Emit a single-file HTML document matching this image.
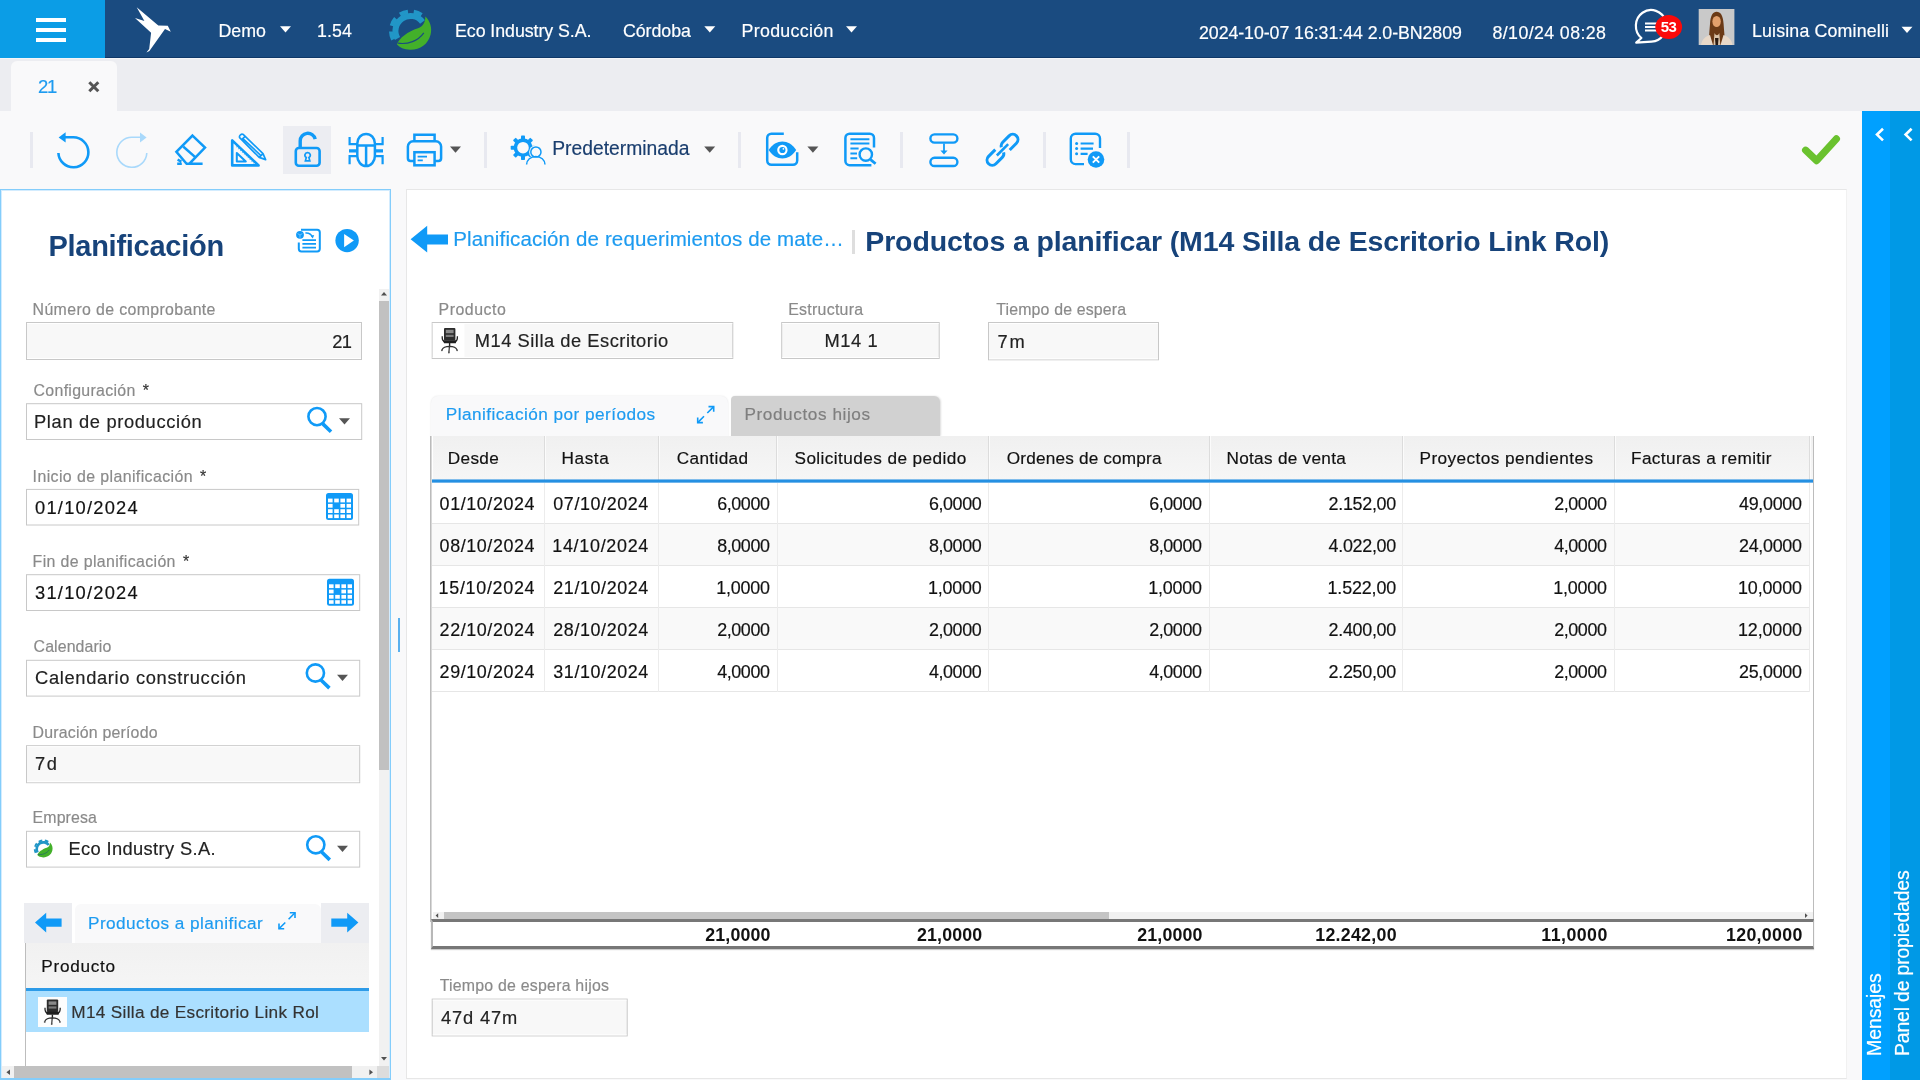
<!DOCTYPE html>
<html lang="es">
<head>
<meta charset="utf-8">
<title>Planificación</title>
<style>
*{box-sizing:border-box;margin:0;padding:0}
html,body{width:1920px;height:1080px;overflow:hidden;background:#f9f9fa;font-family:"Liberation Sans",sans-serif}
.a{position:absolute}
.t{position:absolute;white-space:nowrap;font-family:"Liberation Sans",sans-serif}
.s{-webkit-text-stroke:0.18px currentColor}
.inp{position:absolute;border:1px solid #c9c9c9;background:#fff;box-shadow:inset 0 0 0 1px #f3f3f3}
.ro{background:#f8f8f8}
svg{position:absolute;left:0;top:0;overflow:visible}
.sep{position:absolute;width:3px;top:132px;height:36px;background:#e8e9f0}
.gv{position:absolute;top:436px;height:44px;width:2px;background:linear-gradient(90deg,#dcdcdc 50%,#fbfbfb 50%)}
.cv{position:absolute;top:483px;height:209px;width:1px;background:#ececec}
</style>
</head>
<body>
<!-- top bar -->
<div class="a" style="left:0;top:0;width:1920px;height:58px;background:#1a4b80;border-bottom:1.5px solid #0f3868"></div>
<div class="a" style="left:0;top:0;width:105px;height:58px;background:#0b9de6"></div>
<div class="a" style="left:36px;top:18px;width:30px;height:4px;background:#fff;box-shadow:0 10px 0 #fff,0 20px 0 #fff"></div>
<!-- tab strip -->
<div class="a" style="left:0;top:58px;width:1920px;height:53px;background:#ecedf1;border-top:1px solid #f4f5f8"></div>
<div class="a" style="left:11px;top:61px;width:106px;height:50px;background:#f9f9fa;border-radius:6px 6px 0 0"></div>
<!-- toolbar -->
<div class="a" style="left:0;top:111px;width:1920px;height:78px;background:#f9f9fa"></div>
<div class="a" style="left:283px;top:126px;width:48px;height:48px;background:#ecedf2"></div>
<div class="sep" style="left:30px"></div><div class="sep" style="left:484px"></div><div class="sep" style="left:738px"></div>
<div class="sep" style="left:900px"></div><div class="sep" style="left:1043px"></div><div class="sep" style="left:1127px"></div>
<!-- right sidebar -->
<div class="a" style="left:1862px;top:111px;width:28px;height:969px;background:#00a0ff"></div>
<div class="a" style="left:1890px;top:111px;width:30px;height:969px;background:#0099e6"></div>

<!-- left panel -->
<div class="a" style="left:0;top:189px;width:391px;height:891px;background:#fff;border:1px solid #84cdfb;border-bottom-width:2px;box-shadow:inset 0 0 0 1px #d3ecfe"></div>
<!-- left scrollbars -->
<div class="a" style="left:379px;top:289px;width:10px;height:777px;background:#f1f1f1"></div>
<div class="a" style="left:379px;top:301px;width:10px;height:469px;background:#c1c1c1"></div>
<div class="a" style="left:2px;top:1066px;width:375px;height:12px;background:#f1f1f1"></div>
<div class="a" style="left:14px;top:1066px;width:338px;height:12px;background:#c1c1c1"></div>
<div class="a" style="left:377px;top:1066px;width:12px;height:12px;background:#dcdcdc"></div>
<!-- left inputs -->
<!-- left tab strip + grid -->
<div class="a" style="left:24px;top:902.5px;width:48px;height:40.5px;background:#ecedf1"></div>
<div class="a" style="left:321px;top:902.5px;width:48px;height:40.5px;background:#ecedf1"></div>
<div class="a" style="left:74.5px;top:904px;width:246.5px;height:39px;background:#f9f9fa;border-radius:6px 6px 0 0"></div>
<div class="a" style="left:24.5px;top:943px;width:344.5px;height:45.5px;background:linear-gradient(#f1f1f1,#f5f5f5)"></div>
<div class="a" style="left:24.5px;top:943px;width:1.5px;height:123px;background:#bdbdbd"></div>
<div class="a" style="left:26px;top:988.2px;width:343px;height:2.8px;background:#2d9be8"></div>
<div class="a" style="left:26px;top:991px;width:343px;height:40.5px;background:#abdfff"></div>
<div class="a" style="left:37.8px;top:997.2px;width:29.5px;height:29.5px;background:#fdfdfd"></div>

<!-- main panel -->
<div class="a" style="left:406px;top:189px;width:1441px;height:890px;background:#fff;border:1px solid #e7e7e7;border-right-color:#f1f1f1"></div>
<div class="a" style="left:398px;top:618px;width:1.5px;height:34px;background:#5ab0ee"></div>
<div class="a" style="left:852px;top:229.5px;width:2.5px;height:24px;background:#dedede"></div>
<!-- main inputs -->
<!-- tabs -->
<div class="a" style="left:430.5px;top:395.5px;width:297px;height:41px;background:#f9f9fa;border-radius:7px 7px 0 0;box-shadow:0 0 2px #e4e4e4"></div>
<div class="a" style="left:731px;top:396px;width:209px;height:40px;background:#d1d1d1;border-radius:4px 6px 0 0;box-shadow:1px 0 2px #ddd"></div>
<!-- grid -->
<div class="a" style="left:430.5px;top:435.5px;width:1383.5px;height:486px;background:#fff;border-right:1.5px solid #bcbcbc"></div>
<div class="a" style="left:430px;top:435.5px;width:1px;height:486px;background:#bbb"></div><div class="a" style="left:431px;top:435.5px;width:1px;height:486px;background:#d8d8d8"></div>
<div class="a" style="left:432.5px;top:435.5px;width:1380px;height:44.5px;background:linear-gradient(#f0f0f0,#f6f6f6)"></div>
<div class="gv" style="left:543.5px"></div><div class="gv" style="left:657.5px"></div><div class="gv" style="left:776.3px"></div>
<div class="gv" style="left:987.5px"></div><div class="gv" style="left:1208.5px"></div><div class="gv" style="left:1401.7px"></div>
<div class="gv" style="left:1613.5px"></div><div class="gv" style="left:1808.5px"></div>
<!-- rows -->
<div class="a" style="left:432px;top:483px;width:1377px;height:41px;background:#fff;border-bottom:1px solid #e6e6e6"></div>
<div class="a" style="left:432px;top:524px;width:1377px;height:42px;background:#f9f9f9;border-bottom:1px solid #e6e6e6"></div>
<div class="a" style="left:432px;top:566px;width:1377px;height:42px;background:#fff;border-bottom:1px solid #e6e6e6"></div>
<div class="a" style="left:432px;top:608px;width:1377px;height:42px;background:#f9f9f9;border-bottom:1px solid #e6e6e6"></div>
<div class="a" style="left:432px;top:650px;width:1377px;height:42px;background:#fff;border-bottom:1px solid #e6e6e6"></div>
<div class="cv" style="left:544px"></div><div class="cv" style="left:658px"></div><div class="cv" style="left:777px"></div>
<div class="cv" style="left:988px"></div><div class="cv" style="left:1209px"></div><div class="cv" style="left:1402px"></div>
<div class="cv" style="left:1614px"></div><div class="cv" style="left:1809px"></div>
<!-- grid h-scroll + footer -->
<div class="a" style="left:432.5px;top:911.5px;width:1380px;height:8px;background:#f1f1f1"></div>
<div class="a" style="left:444px;top:911.5px;width:665px;height:8px;background:#c4c4c4"></div>
<div class="a" style="left:430.5px;top:919px;width:1383.5px;height:30px;background:#fff;border-top:3px solid #777;border-bottom:3px solid #777;border-left:2px solid #b8b8b8;border-right:1.5px solid #b8b8b8;box-shadow:0 1px 1px #ccc"></div>

<svg width="1920" height="1080" viewBox="0 0 1920 1080">
<rect x="26.5" y="322.5" width="335" height="37" fill="#f8f8f8" stroke="#c8c8c8" stroke-width="1"/>
<path d="M27,323.5 H361 M27,358.5 H361" stroke="#fff" stroke-width="1" fill="none"/>
<rect x="26.5" y="403.7" width="335.2" height="35.8" fill="#fff" stroke="#c8c8c8" stroke-width="1"/>
<rect x="26.5" y="489.4" width="332.2" height="35.6" fill="#fff" stroke="#c8c8c8" stroke-width="1"/>
<rect x="26.5" y="574.7" width="333.2" height="35.8" fill="#fff" stroke="#c8c8c8" stroke-width="1"/>
<rect x="26.5" y="660.3" width="333.2" height="35.8" fill="#fff" stroke="#c8c8c8" stroke-width="1"/>
<rect x="26.5" y="745.7" width="333.2" height="37" fill="#f8f8f8" stroke="#c8c8c8" stroke-width="1"/>
<path d="M27,746.7 H359.2 M27,781.7 H359.2" stroke="#fff" stroke-width="1" fill="none"/>
<rect x="26.5" y="831.3" width="333.2" height="35.8" fill="#fff" stroke="#c8c8c8" stroke-width="1"/>
<rect x="432.2" y="322.5" width="300.6" height="36" fill="#f8f8f8" stroke="#c8c8c8" stroke-width="1"/>
<path d="M432.7,323.5 H732.3 M432.7,357.5 H732.3" stroke="#fff" stroke-width="1" fill="none"/>
<rect x="781.7" y="322.5" width="157.5" height="36" fill="#f8f8f8" stroke="#c8c8c8" stroke-width="1"/>
<path d="M782.2,323.5 H938.7 M782.2,357.5 H938.7" stroke="#fff" stroke-width="1" fill="none"/>
<rect x="988.5" y="322.5" width="170" height="37.3" fill="#f8f8f8" stroke="#c8c8c8" stroke-width="1"/>
<path d="M989,323.5 H1158 M989,358.8 H1158" stroke="#fff" stroke-width="1" fill="none"/>
<rect x="432.2" y="999.1" width="195" height="36.8" fill="#f8f8f8" stroke="#c8c8c8" stroke-width="1"/>
<path d="M432.7,1000.1 H626.7 M432.7,1034.9 H626.7" stroke="#fff" stroke-width="1" fill="none"/>
<defs>
<g id="eco">
 <path d="M397.5,38.5 A15,15 0 0 1 422.5,22.0" fill="none" stroke="#2196c7" stroke-width="6"/>
 <path d="M393.2,39.6 A19.3,19.3 0 0 1 391.2,31.5 M391.9,25.8 A19.3,19.3 0 0 1 395.8,18.5 M400.1,14.7 A19.3,19.3 0 0 1 408.0,11.9 M413.7,12.0 A19.3,19.3 0 0 1 421.4,15.1" fill="none" stroke="#2196c7" stroke-width="4.4"/>
 <path d="M397,44.6 C399,38 408,31.5 418,28.3 C423,26.3 425.6,22 425.3,16.5 C430.2,21 432.3,28 430.6,34.5 C428,44.5 420,50 410,49.8 C404,49.6 399.5,47.6 397,44.6 Z" fill="#43b02a"/>
 <path d="M398,43.2 C408,44.6 418,41 423.8,32.8" fill="none" stroke="#1a4b80" stroke-width="1.2"/>
</g>
<g id="chair">
 <rect x="444" y="328" width="11.4" height="12.4" rx="1" fill="#2b2b2b"/>
 <rect x="445.8" y="329.8" width="7.8" height="3.4" fill="#8a8a8a"/>
 <rect x="445.8" y="334.8" width="7.8" height="2.2" fill="#7a7a7a"/>
 <path d="M442.2,336.2 C442,340 443.5,341.5 445,342 M457.4,336.2 C457.6,340 456,341.5 454.6,342" fill="none" stroke="#222" stroke-width="1.3"/>
 <path d="M443,340.2 H456.6 L455.8,343.2 H444 Z" fill="#1e1e1e"/>
 <path d="M449.6,343 V347" stroke="#222" stroke-width="1.4"/>
 <path d="M441.9,350 C443,347.3 446,346.3 449.6,346.3 C453,346.3 456,347.3 457.1,350 M449.4,346.5 L448.9,352.4" fill="none" stroke="#333" stroke-width="1.2"/>
 <circle cx="441.9" cy="350.3" r="0.9" fill="#555"/><circle cx="457.1" cy="350.3" r="0.9" fill="#555"/><circle cx="448.9" cy="352.5" r="0.9" fill="#555"/>
</g>
<g id="mag">
 <circle cx="317" cy="416.6" r="8.6" fill="none" stroke="#109af7" stroke-width="2.6"/>
 <path d="M322.6,423.6 L331,431.7" stroke="#109af7" stroke-width="3.6"/>
</g>
<g id="cal">
 <rect x="326" y="493" width="27" height="27" rx="2.5" fill="#109af7"/>
 <g fill="#fff">
  <rect x="328" y="498.6" width="4.6" height="3.8"/><rect x="334.2" y="498.6" width="4.6" height="3.8"/><rect x="340.4" y="498.6" width="4.6" height="3.8"/><rect x="346.6" y="498.6" width="4.4" height="3.8"/>
  <rect x="328" y="503.9" width="4.6" height="3.8"/><rect x="340.4" y="503.9" width="4.6" height="3.8"/><rect x="346.6" y="503.9" width="4.4" height="3.8"/>
  <rect x="328" y="509.2" width="4.6" height="3.8"/><rect x="334.2" y="509.2" width="4.6" height="3.8"/><rect x="340.4" y="509.2" width="4.6" height="3.8"/><rect x="346.6" y="509.2" width="4.4" height="3.8"/>
  <rect x="328" y="514.5" width="4.6" height="3.6"/><rect x="334.2" y="514.5" width="4.6" height="3.6"/><rect x="340.4" y="514.5" width="4.6" height="3.6"/><rect x="346.6" y="514.5" width="4.4" height="3.6"/>
 </g>
</g>
<path id="car" d="M0,0 H11 L5.5,6.2 Z"/>
<g id="exp" fill="none" stroke="#109af7" stroke-width="1.6">
 <path d="M279,928.8 L285.3,922.5 M288.6,919.2 L295,912.8"/>
 <path d="M279,923.6 V928.8 H284.2 M289.8,912.8 H295 V918" stroke-linejoin="miter"/>
</g>
</defs>

<rect x="432" y="479.45" width="1381" height="3.2" fill="#2590e2"/>
<!-- bird -->
<path d="M136.7,7.2 L158.3,25.6 L167.8,25.8 L170.8,31.7 L165,28.9 L149.4,51.1 L146.4,52.5 L149.2,48.9 L151.1,32.8 L135,18 L144.4,21.1 Z" fill="#fff"/>
<use href="#eco"/>
<!-- top carets -->
<g fill="#fff">
<use href="#car" x="280" y="26.3"/><use href="#car" x="704.3" y="26.3"/><use href="#car" x="846" y="26.3"/><use href="#car" x="1901.5" y="26.7" />
</g>
<!-- chat bubble -->
<path d="M1641.4,38 A15.2,15.8 0 1 1 1651.5,41.6 L1636.2,42.6 Z" fill="none" stroke="#fff" stroke-width="2.2" stroke-linejoin="round"/>
<path d="M1645,23.4 H1660 M1645,27 H1660 M1645,30.6 H1660" stroke="#fff" stroke-width="2"/>
<ellipse cx="1668.7" cy="27" rx="13.4" ry="12" fill="#fb0a0a"/>
<!-- avatar -->
<rect x="1698.7" y="9" width="35.7" height="36" fill="#c9c9c9"/>
<path d="M1708.5,45 C1709,36 1709.5,30 1710,24 C1710.5,15 1713,11.8 1716.6,11.8 C1720.5,11.8 1723,15 1723.6,24 C1724,30 1724.6,36 1725.2,45 Z" fill="#6b3a16"/>
<ellipse cx="1716.6" cy="21.5" rx="4.2" ry="5.6" fill="#e2a06c"/>
<path d="M1701,45 C1702,39 1706,36 1710,35 L1713,45 Z M1732.5,45 C1731.5,39 1727.5,36 1723.5,35 L1720.5,45 Z" fill="#e8d8c8"/>
<path d="M1713.5,45 L1714.5,33 C1716,36 1718,36 1719.3,33 L1720.3,45 Z" fill="#d9c2a8"/>
<path d="M1715,38 L1718.5,38 L1718,45 L1715.5,45Z" fill="#2a1a10"/>
<!-- tab close x -->
<path d="M89.3,82.3 L98.3,91.3 M98.3,82.3 L89.3,91.3" stroke="#555" stroke-width="3"/>

<!-- ===== toolbar icons ===== -->
<g fill="none" stroke="#109af7" stroke-width="2.6">
 <!-- undo -->
 <path d="M58.4,153 A15,15 0 1 0 73.3,137.3 H65"/>
 <path d="M58.6,137.4 L65.6,132.2 V142.6 Z" fill="#109af7" stroke="none"/>
 <!-- eraser -->
 <path d="M192.5,135.6 L205,147.6 L189.4,163.7 H186.6 L176.4,151.8 Z M183.4,146.8 L195.8,157.6 M189,163.7 H202.6 M177.2,163.7 H181.8 M177.6,159.6 L181.4,161.6" stroke-width="2.5"/>
 <!-- triangle/pencil -->
 <path d="M232.2,140.4 V165.4 H258.6 Z" stroke-width="2.6" stroke-linejoin="round"/>
 <path d="M236.5,146.5 L254.5,163.5" stroke-width="1.2" stroke-dasharray="1 1.6" opacity=".7"/>
 <path d="M236.8,153 V161.4 H245.8 Z" stroke-width="2" stroke-linejoin="round"/>
 <path d="M239.6,137.6 A2.6,2.6 0 0 1 243.4,134.6 L263,153.6 L265.6,159.6 L259.2,157.4 Z M241.6,139.6 L245.2,136.4 M259.4,157.2 L262.8,153.8 M242.6,138.4 L261.2,155.8" stroke-width="1.7" stroke-linejoin="round"/>
 <!-- lock -->
 <rect x="295.8" y="148" width="23.8" height="17.7" rx="3"/>
 <path d="M300.2,147 V141 A7.6,7.6 0 0 1 315.2,139.2" stroke-width="3.4"/>
 <path d="M307.6,152.6 a2.6,2.6 0 0 1 1.3,4.9 l0.9,3.3 h-4.4 l0.9,-3.3 a2.6,2.6 0 0 1 1.3,-4.9 z" stroke-width="1.7"/>
 <!-- bug -->
 <path d="M357.3,150 V143.5 A8.8,9.6 0 0 1 374.9,143.5 V156 A8.8,10 0 0 1 357.3,156 Z M357.3,145.4 H374.9 M366.1,145.4 V166" stroke-width="2.5"/>
 <path d="M357.3,144.2 H349.6 V136.9 M374.9,144.2 H382.6 V136.9 M357.3,156.2 H349.6 V164.2 M374.9,156.2 H382.6 V164.2" stroke-width="2.2"/>
 <path d="M349,150.9 H357 M375,150.9 H383" stroke-width="3.2"/>
 <!-- printer -->
 <path d="M414.4,141 V134.8 H434.6 V141 M414.4,161 H410.6 A2.7,2.7 0 0 1 407.9,158.3 V146.5 A5.2,5.2 0 0 1 413.1,141.3 H435.9 A5.2,5.2 0 0 1 441.1,146.5 V158.3 A2.7,2.7 0 0 1 438.4,161 H434.6" stroke-width="2.5"/>
 <rect x="414.4" y="152.2" width="20.2" height="13.1" stroke-width="2.5"/>
 <path d="M417.6,156.6 H427 M417.6,160.3 H422.8" stroke-width="1.8"/>
 <!-- eye doc -->
 <path d="M783.8,133.7 H771.4 A4.2,4.2 0 0 0 767.2,137.9 V160.6 A4.2,4.2 0 0 0 771.4,164.8 H793 A4.2,4.2 0 0 0 797.2,160.6 V152.2" stroke-width="2.5"/>
 <!-- doc search -->
 <path d="M871.4,165.2 H849.6 A4.2,4.2 0 0 1 845.4,161 V137.9 A4.2,4.2 0 0 1 849.6,133.7 H869.8 A4.2,4.2 0 0 1 874,137.9 V147.6" stroke-width="2.5"/>
 <path d="M850.4,139.2 H869.4 M850.4,143.5 H869.4 M850.4,148.6 H858.6 M850.4,153.4 H857 M850.4,158.2 H857.2" stroke-width="2"/>
 <circle cx="865.8" cy="154.6" r="6.2" stroke-width="2.4"/>
 <path d="M870.6,159.6 L875.6,163.8" stroke-width="2.8"/>
 <!-- flow -->
 <rect x="930.4" y="134.4" width="27" height="8.2" rx="4.1" stroke-width="2.4"/>
 <rect x="930.4" y="157.8" width="27" height="8.2" rx="4.1" stroke-width="2.4"/>
 <path d="M944,143.6 V151" stroke-width="1.8"/>
 <path d="M940.4,150.4 H947.6 L944,154.6 Z" fill="#109af7" stroke="none"/>
 <!-- link -->
 <g transform="rotate(-45 1002.5 149.8)" stroke-width="3">
  <path d="M997.5,144.6 H988 A5.2,5.2 0 0 0 988,155 H997 A5.2,5.2 0 0 0 1001.5,152.4"/>
  <path d="M1007.5,155 H1017 A5.2,5.2 0 0 0 1017,144.6 H1008 A5.2,5.2 0 0 0 1003.5,147.2"/>
  <path d="M994.5,149.8 H1010.5" stroke-width="2.6"/>
 </g>
 <!-- list x -->
 <path d="M1084,164.1 H1075.6 A4.8,4.8 0 0 1 1070.8,159.3 V138.6 A4.8,4.8 0 0 1 1075.6,133.8 H1095.2 A4.8,4.8 0 0 1 1100,138.6 V148" stroke-width="2.4"/>
 <path d="M1080.6,143.5 H1093.6 M1080.6,148.6 H1093 M1080.6,153.8 H1087.6" stroke-width="2.2"/>
</g>
<g fill="#109af7">
 <circle cx="1076.6" cy="143.5" r="1.5"/><circle cx="1076.6" cy="148.6" r="1.5"/><circle cx="1076.6" cy="153.8" r="1.5"/>
 <circle cx="1096" cy="159.5" r="8.3"/>
 <!-- eye -->
 <path d="M768.6,150 C772.5,144.2 777.2,141.5 782.4,141.5 C787.6,141.5 792.3,144.2 796.2,150 C792.3,155.8 787.6,158.5 782.4,158.5 C777.2,158.5 772.5,155.8 768.6,150 Z"/>
</g>
<path d="M1092.8,156.3 L1099.2,162.7 M1099.2,156.3 L1092.8,162.7" stroke="#fff" stroke-width="1.9" fill="none"/>
<circle cx="782.4" cy="150" r="5.2" fill="#fff"/><circle cx="782.4" cy="150" r="3.1" fill="#109af7"/><circle cx="783.4" cy="148.8" r="0.9" fill="#fff"/>
<!-- redo (faded) -->
<g fill="none" stroke="#a9d9fb" stroke-width="1.6">
 <path d="M146.8,153 A15,15 0 1 1 132,137.3 H140"/>
 <path d="M146.6,137.4 L140,132.4 V142.4 Z" fill="#a9d9fb" stroke="none"/>
</g>
<!-- gear + person -->
<g>
 <g fill="#109af7">
  <circle cx="523" cy="147.7" r="9.4"/>
  <g id="teeth">
   <rect x="521" y="135.4" width="4" height="5" rx="0.8"/>
   <rect x="521" y="135.4" width="4" height="5" rx="0.8" transform="rotate(45 523 147.7)"/>
   <rect x="521" y="135.4" width="4" height="5" rx="0.8" transform="rotate(90 523 147.7)"/>
   <rect x="521" y="135.4" width="4" height="5" rx="0.8" transform="rotate(135 523 147.7)"/>
   <rect x="521" y="135.4" width="4" height="5" rx="0.8" transform="rotate(180 523 147.7)"/>
   <rect x="521" y="135.4" width="4" height="5" rx="0.8" transform="rotate(225 523 147.7)"/>
   <rect x="521" y="135.4" width="4" height="5" rx="0.8" transform="rotate(270 523 147.7)"/>
   <rect x="521" y="135.4" width="4" height="5" rx="0.8" transform="rotate(315 523 147.7)"/>
  </g>
 </g>
 <circle cx="523" cy="147.7" r="5.8" fill="#f9f9fa"/>
 <circle cx="535.9" cy="152" r="6.8" fill="#f9f9fa"/>
 <path d="M525.2,165.2 A10.6,9.8 0 0 1 546.4,165.2 Z" fill="#f9f9fa"/>
 <circle cx="535.9" cy="152" r="5.1" fill="none" stroke="#109af7" stroke-width="1.5"/>
 <path d="M526.6,164.6 A9.2,8.2 0 0 1 545,164.6" fill="none" stroke="#109af7" stroke-width="1.5"/>
</g>
<!-- toolbar carets -->
<g fill="#555"><use href="#car" x="450" y="146.6"/><use href="#car" x="704.2" y="146.6"/><use href="#car" x="807.4" y="146.6"/></g>
<!-- check -->
<path d="M1805.6,150.2 L1816.6,160.6 L1836.4,138.8" fill="none" stroke="#6ac22e" stroke-width="7.2" stroke-linecap="round" stroke-linejoin="round"/>
<!-- sidebar chevrons -->
<path d="M1883,128.8 L1877,134.6 L1883,140.4 M1911.6,128.8 L1905.6,134.6 L1911.6,140.4" fill="none" stroke="#fff" stroke-width="2.6"/>

<!-- ===== left panel icons ===== -->
<g fill="none" stroke="#109af7">
 <path d="M301,229.7 H317.2 A2.6,2.6 0 0 1 319.8,232.3 V248.8 A2.6,2.6 0 0 1 317.2,251.4 H301.4 A2.6,2.6 0 0 1 298.8,248.8 V242.4" stroke-width="2"/>
 <path d="M302.4,240.2 H316 M302.4,243.9 H316 M302.4,247.7 H316" stroke-width="1.7"/>
 <path d="M305.4,233 C308.6,232.6 311,234 312.6,236.8" stroke-width="1.4"/>
</g>
<path d="M310.6,235.8 L314.2,235 L312.8,238.6 Z" fill="#109af7"/>
<circle cx="300" cy="234.8" r="3.9" fill="#109af7"/>
<path d="M297.6,233.6 L300,235 L302.4,233.6 M300,235 V237.8" stroke="#7cc6fa" stroke-width="0.9" fill="none"/>
<circle cx="347.1" cy="240.6" r="11.7" fill="#109af7"/>
<path d="M344.1,234.1 V247.2 L353.9,240.6 Z" fill="#fff"/>
<use href="#mag"/>
<use href="#mag" x="-1.6" y="256.4"/>
<use href="#mag" x="-1.2" y="428.2"/>
<g fill="#555"><use href="#car" x="339" y="418.3"/><use href="#car" x="337" y="674.8"/><use href="#car" x="337" y="845.8"/></g>
<use href="#cal"/>
<use href="#cal" x="1" y="85.7"/>
<use href="#eco" transform="translate(-139.7,835.2) scale(0.446)"/>
<!-- arrows -->
<path d="M35,922.6 L46.2,912.8 V918.5 H61.6 V926.7 H46.2 V932.4 Z" fill="#109af7"/>
<path d="M358.4,922.6 L347.2,912.8 V918.5 H331.3 V926.7 H347.2 V932.4 Z" fill="#109af7"/>
<use href="#exp"/>
<use href="#chair" x="-397.2" y="671.6"/>
<!-- scrollbar arrows -->
<g fill="#505050">
 <path d="M381,295.6 L384,292 L387,295.6 Z"/><path d="M381,1057 L384,1060.6 L387,1057 Z"/>
 <path d="M10,1069.4 L6.4,1072.2 L10,1075 Z"/><path d="M369.4,1069.4 L373,1072.2 L369.4,1075 Z"/>
 <path d="M438.2,913.2 L435.6,915.6 L438.2,918 Z"/><path d="M1805,913.2 L1807.6,915.6 L1805,918 Z"/>
</g>

<!-- ===== main panel icons ===== -->
<path d="M410.6,239.2 L427.2,225.8 V234.4 H448 V244.6 H427.2 V252.6 Z" fill="#109af7"/>
<rect x="432.8" y="323.2" width="31.6" height="34.6" fill="#fff"/>
<use href="#chair"/>
<use href="#exp" x="418.7" y="-506.2"/>

</svg>
<div class="a" style="left:0;top:0;width:1920px;height:1080px;will-change:transform">
<span class="t s" style="left:218.50px;top:20px;font-size:17.8px;line-height:23px;letter-spacing:-0.014px;color:#fff;font-weight:400;">Demo</span>
<span class="t s" style="left:317.00px;top:20px;font-size:17.8px;line-height:23px;letter-spacing:0.094px;color:#fff;font-weight:400;">1.54</span>
<span class="t s" style="left:455.00px;top:20px;font-size:17.8px;line-height:23px;letter-spacing:-0.058px;color:#fff;font-weight:400;">Eco Industry S.A.</span>
<span class="t s" style="left:623.00px;top:20px;font-size:17.8px;line-height:23px;letter-spacing:-0.053px;color:#fff;font-weight:400;">Córdoba</span>
<span class="t s" style="left:741.50px;top:20px;font-size:17.8px;line-height:23px;letter-spacing:0.326px;color:#fff;font-weight:400;">Producción</span>
<span class="t s" style="left:1199.00px;top:22px;font-size:17.8px;line-height:23px;letter-spacing:-0.071px;color:#fff;font-weight:400;">2024-10-07 16:31:44 2.0-BN2809</span>
<span class="t s" style="left:1492.50px;top:22px;font-size:17.8px;line-height:23px;letter-spacing:0.386px;color:#fff;font-weight:400;">8/10/24 08:28</span>
<span class="t s" style="left:1752.00px;top:20px;font-size:17.8px;line-height:23px;letter-spacing:0.159px;color:#fff;font-weight:400;">Luisina Cominelli</span>
<span class="t" style="left:1660.80px;top:17px;font-size:15px;line-height:20px;letter-spacing:-0.542px;color:#fff;font-weight:700;">53</span>
<span class="t s" style="left:38.00px;top:75px;font-size:18.5px;line-height:24px;letter-spacing:-1.289px;color:#1d9bf0;font-weight:400;">21</span>
<span class="t s" style="left:552.20px;top:136px;font-size:19.3px;line-height:25px;letter-spacing:0.010px;color:#1a3e6e;font-weight:400;">Predeterminada</span>
<span class="t" style="left:48.40px;top:227px;font-size:29px;line-height:38px;letter-spacing:-0.256px;color:#17437a;font-weight:700;">Planificación</span>
<span class="t s" style="left:32.60px;top:299px;font-size:15.9px;line-height:21px;letter-spacing:0.353px;color:#8a8a8a;font-weight:400;">Número de comprobante</span>
<span class="t s" style="left:332.30px;top:330px;font-size:18.3px;line-height:24px;letter-spacing:-0.767px;color:#222;font-weight:400;">21</span>
<span class="t s" style="left:33.60px;top:380px;font-size:15.9px;line-height:21px;letter-spacing:0.299px;color:#8a8a8a;font-weight:400;">Configuración</span>
<span class="t s" style="left:142.70px;top:380px;font-size:15.9px;line-height:21px;letter-spacing:0.000px;color:#333;font-weight:400;">*</span>
<span class="t s" style="left:34.00px;top:410px;font-size:18.3px;line-height:24px;letter-spacing:0.662px;color:#222;font-weight:400;">Plan de producción</span>
<span class="t s" style="left:32.60px;top:466px;font-size:15.9px;line-height:21px;letter-spacing:0.404px;color:#8a8a8a;font-weight:400;">Inicio de planificación</span>
<span class="t s" style="left:200.00px;top:466px;font-size:15.9px;line-height:21px;letter-spacing:0.000px;color:#333;font-weight:400;">*</span>
<span class="t s" style="left:35.00px;top:496px;font-size:18.3px;line-height:24px;letter-spacing:1.241px;color:#111;font-weight:400;">01/10/2024</span>
<span class="t s" style="left:32.60px;top:551px;font-size:15.9px;line-height:21px;letter-spacing:0.358px;color:#8a8a8a;font-weight:400;">Fin de planificación</span>
<span class="t s" style="left:183.00px;top:551px;font-size:15.9px;line-height:21px;letter-spacing:0.000px;color:#333;font-weight:400;">*</span>
<span class="t s" style="left:35.00px;top:581px;font-size:18.3px;line-height:24px;letter-spacing:1.241px;color:#111;font-weight:400;">31/10/2024</span>
<span class="t s" style="left:33.60px;top:636px;font-size:15.9px;line-height:21px;letter-spacing:0.098px;color:#8a8a8a;font-weight:400;">Calendario</span>
<span class="t s" style="left:35.00px;top:666px;font-size:18.3px;line-height:24px;letter-spacing:0.675px;color:#222;font-weight:400;">Calendario construcción</span>
<span class="t s" style="left:32.60px;top:722px;font-size:15.9px;line-height:21px;letter-spacing:0.202px;color:#8a8a8a;font-weight:400;">Duración período</span>
<span class="t s" style="left:35.00px;top:752px;font-size:18.3px;line-height:24px;letter-spacing:1.633px;color:#222;font-weight:400;">7d</span>
<span class="t s" style="left:32.60px;top:807px;font-size:15.9px;line-height:21px;letter-spacing:0.109px;color:#8a8a8a;font-weight:400;">Empresa</span>
<span class="t s" style="left:68.40px;top:837px;font-size:18.3px;line-height:24px;letter-spacing:0.378px;color:#222;font-weight:400;">Eco Industry S.A.</span>
<span class="t s" style="left:88.00px;top:912px;font-size:17.2px;line-height:22px;letter-spacing:0.450px;color:#1d9bf0;font-weight:400;">Productos a planificar</span>
<span class="t s" style="left:41.30px;top:955px;font-size:17.2px;line-height:22px;letter-spacing:0.724px;color:#111;font-weight:400;">Producto</span>
<span class="t s" style="left:71.30px;top:1001px;font-size:17.2px;line-height:22px;letter-spacing:0.312px;color:#333;font-weight:400;">M14 Silla de Escritorio Link Rol</span>
<span class="t s" style="left:453.30px;top:225px;font-size:20.5px;line-height:27px;letter-spacing:0.135px;color:#1d9bf0;font-weight:400;">Planificación de requerimientos de mate…</span>
<span class="t" style="left:865.25px;top:223px;font-size:28.5px;line-height:37px;letter-spacing:-0.119px;color:#17437a;font-weight:700;">Productos a planificar (M14 Silla de Escritorio Link Rol)</span>
<span class="t s" style="left:438.50px;top:299px;font-size:15.9px;line-height:21px;letter-spacing:0.534px;color:#8a8a8a;font-weight:400;">Producto</span>
<span class="t s" style="left:474.75px;top:329px;font-size:18.3px;line-height:24px;letter-spacing:0.525px;color:#222;font-weight:400;">M14 Silla de Escritorio</span>
<span class="t s" style="left:788.25px;top:299px;font-size:15.9px;line-height:21px;letter-spacing:0.269px;color:#8a8a8a;font-weight:400;">Estructura</span>
<span class="t s" style="left:824.50px;top:329px;font-size:18.3px;line-height:24px;letter-spacing:0.590px;color:#222;font-weight:400;">M14 1</span>
<span class="t s" style="left:996.25px;top:299px;font-size:15.9px;line-height:21px;letter-spacing:0.157px;color:#8a8a8a;font-weight:400;">Tiempo de espera</span>
<span class="t s" style="left:997.50px;top:330px;font-size:18.3px;line-height:24px;letter-spacing:1.833px;color:#222;font-weight:400;">7m</span>
<span class="t s" style="left:445.75px;top:403px;font-size:17.2px;line-height:22px;letter-spacing:0.463px;color:#1d9bf0;font-weight:400;">Planificación por períodos</span>
<span class="t s" style="left:744.50px;top:403px;font-size:17.2px;line-height:22px;letter-spacing:0.577px;color:#7f7f7f;font-weight:400;">Productos hijos</span>
<span class="t s" style="left:447.75px;top:447px;font-size:17.2px;line-height:22px;letter-spacing:0.344px;color:#111;font-weight:400;">Desde</span>
<span class="t s" style="left:561.50px;top:447px;font-size:17.2px;line-height:22px;letter-spacing:0.602px;color:#111;font-weight:400;">Hasta</span>
<span class="t s" style="left:676.75px;top:447px;font-size:17.2px;line-height:22px;letter-spacing:0.358px;color:#111;font-weight:400;">Cantidad</span>
<span class="t s" style="left:794.50px;top:447px;font-size:17.2px;line-height:22px;letter-spacing:0.421px;color:#111;font-weight:400;">Solicitudes de pedido</span>
<span class="t s" style="left:1006.75px;top:447px;font-size:17.2px;line-height:22px;letter-spacing:0.182px;color:#111;font-weight:400;">Ordenes de compra</span>
<span class="t s" style="left:1226.50px;top:447px;font-size:17.2px;line-height:22px;letter-spacing:0.284px;color:#111;font-weight:400;">Notas de venta</span>
<span class="t s" style="left:1419.50px;top:447px;font-size:17.2px;line-height:22px;letter-spacing:0.437px;color:#111;font-weight:400;">Proyectos pendientes</span>
<span class="t s" style="left:1631.00px;top:447px;font-size:17.2px;line-height:22px;letter-spacing:0.398px;color:#111;font-weight:400;">Facturas a remitir</span>
<span class="t s" style="left:439.60px;top:493px;font-size:17.9px;line-height:23px;letter-spacing:0.601px;color:#111;font-weight:400;">01/10/2024</span>
<span class="t s" style="left:553.30px;top:493px;font-size:17.9px;line-height:23px;letter-spacing:0.601px;color:#111;font-weight:400;">07/10/2024</span>
<span class="t s" style="left:717.14px;top:493px;font-size:17.9px;line-height:23px;letter-spacing:-0.381px;color:#111;font-weight:400;">6,0000</span>
<span class="t s" style="left:928.89px;top:493px;font-size:17.9px;line-height:23px;letter-spacing:-0.381px;color:#111;font-weight:400;">6,0000</span>
<span class="t s" style="left:1149.14px;top:493px;font-size:17.9px;line-height:23px;letter-spacing:-0.381px;color:#111;font-weight:400;">6,0000</span>
<span class="t s" style="left:1328.55px;top:493px;font-size:17.9px;line-height:23px;letter-spacing:-0.284px;color:#111;font-weight:400;">2.152,00</span>
<span class="t s" style="left:1554.14px;top:493px;font-size:17.9px;line-height:23px;letter-spacing:-0.381px;color:#111;font-weight:400;">2,0000</span>
<span class="t s" style="left:1739.03px;top:493px;font-size:17.9px;line-height:23px;letter-spacing:-0.292px;color:#111;font-weight:400;">49,0000</span>
<span class="t s" style="left:439.60px;top:535px;font-size:17.9px;line-height:23px;letter-spacing:0.601px;color:#111;font-weight:400;">08/10/2024</span>
<span class="t s" style="left:552.30px;top:535px;font-size:17.9px;line-height:23px;letter-spacing:0.712px;color:#111;font-weight:400;">14/10/2024</span>
<span class="t s" style="left:717.14px;top:535px;font-size:17.9px;line-height:23px;letter-spacing:-0.381px;color:#111;font-weight:400;">8,0000</span>
<span class="t s" style="left:928.89px;top:535px;font-size:17.9px;line-height:23px;letter-spacing:-0.381px;color:#111;font-weight:400;">8,0000</span>
<span class="t s" style="left:1149.14px;top:535px;font-size:17.9px;line-height:23px;letter-spacing:-0.381px;color:#111;font-weight:400;">8,0000</span>
<span class="t s" style="left:1328.55px;top:535px;font-size:17.9px;line-height:23px;letter-spacing:-0.284px;color:#111;font-weight:400;">4.022,00</span>
<span class="t s" style="left:1554.14px;top:535px;font-size:17.9px;line-height:23px;letter-spacing:-0.381px;color:#111;font-weight:400;">4,0000</span>
<span class="t s" style="left:1739.03px;top:535px;font-size:17.9px;line-height:23px;letter-spacing:-0.292px;color:#111;font-weight:400;">24,0000</span>
<span class="t s" style="left:438.60px;top:577px;font-size:17.9px;line-height:23px;letter-spacing:0.712px;color:#111;font-weight:400;">15/10/2024</span>
<span class="t s" style="left:553.30px;top:577px;font-size:17.9px;line-height:23px;letter-spacing:0.601px;color:#111;font-weight:400;">21/10/2024</span>
<span class="t s" style="left:716.14px;top:577px;font-size:17.9px;line-height:23px;letter-spacing:-0.181px;color:#111;font-weight:400;">1,0000</span>
<span class="t s" style="left:927.89px;top:577px;font-size:17.9px;line-height:23px;letter-spacing:-0.181px;color:#111;font-weight:400;">1,0000</span>
<span class="t s" style="left:1148.14px;top:577px;font-size:17.9px;line-height:23px;letter-spacing:-0.181px;color:#111;font-weight:400;">1,0000</span>
<span class="t s" style="left:1327.55px;top:577px;font-size:17.9px;line-height:23px;letter-spacing:-0.141px;color:#111;font-weight:400;">1.522,00</span>
<span class="t s" style="left:1553.14px;top:577px;font-size:17.9px;line-height:23px;letter-spacing:-0.181px;color:#111;font-weight:400;">1,0000</span>
<span class="t s" style="left:1738.03px;top:577px;font-size:17.9px;line-height:23px;letter-spacing:-0.125px;color:#111;font-weight:400;">10,0000</span>
<span class="t s" style="left:439.60px;top:619px;font-size:17.9px;line-height:23px;letter-spacing:0.601px;color:#111;font-weight:400;">22/10/2024</span>
<span class="t s" style="left:553.30px;top:619px;font-size:17.9px;line-height:23px;letter-spacing:0.601px;color:#111;font-weight:400;">28/10/2024</span>
<span class="t s" style="left:717.14px;top:619px;font-size:17.9px;line-height:23px;letter-spacing:-0.381px;color:#111;font-weight:400;">2,0000</span>
<span class="t s" style="left:928.89px;top:619px;font-size:17.9px;line-height:23px;letter-spacing:-0.381px;color:#111;font-weight:400;">2,0000</span>
<span class="t s" style="left:1149.14px;top:619px;font-size:17.9px;line-height:23px;letter-spacing:-0.381px;color:#111;font-weight:400;">2,0000</span>
<span class="t s" style="left:1328.55px;top:619px;font-size:17.9px;line-height:23px;letter-spacing:-0.284px;color:#111;font-weight:400;">2.400,00</span>
<span class="t s" style="left:1554.14px;top:619px;font-size:17.9px;line-height:23px;letter-spacing:-0.381px;color:#111;font-weight:400;">2,0000</span>
<span class="t s" style="left:1738.03px;top:619px;font-size:17.9px;line-height:23px;letter-spacing:-0.125px;color:#111;font-weight:400;">12,0000</span>
<span class="t s" style="left:439.60px;top:661px;font-size:17.9px;line-height:23px;letter-spacing:0.601px;color:#111;font-weight:400;">29/10/2024</span>
<span class="t s" style="left:553.30px;top:661px;font-size:17.9px;line-height:23px;letter-spacing:0.601px;color:#111;font-weight:400;">31/10/2024</span>
<span class="t s" style="left:717.14px;top:661px;font-size:17.9px;line-height:23px;letter-spacing:-0.381px;color:#111;font-weight:400;">4,0000</span>
<span class="t s" style="left:928.89px;top:661px;font-size:17.9px;line-height:23px;letter-spacing:-0.381px;color:#111;font-weight:400;">4,0000</span>
<span class="t s" style="left:1149.14px;top:661px;font-size:17.9px;line-height:23px;letter-spacing:-0.381px;color:#111;font-weight:400;">4,0000</span>
<span class="t s" style="left:1328.55px;top:661px;font-size:17.9px;line-height:23px;letter-spacing:-0.284px;color:#111;font-weight:400;">2.250,00</span>
<span class="t s" style="left:1554.14px;top:661px;font-size:17.9px;line-height:23px;letter-spacing:-0.381px;color:#111;font-weight:400;">2,0000</span>
<span class="t s" style="left:1739.03px;top:661px;font-size:17.9px;line-height:23px;letter-spacing:-0.292px;color:#111;font-weight:400;">25,0000</span>
<span class="t" style="left:705.36px;top:924px;font-size:17.8px;line-height:23px;letter-spacing:0.109px;color:#111;font-weight:700;">21,0000</span>
<span class="t" style="left:917.11px;top:924px;font-size:17.8px;line-height:23px;letter-spacing:0.109px;color:#111;font-weight:700;">21,0000</span>
<span class="t" style="left:1137.36px;top:924px;font-size:17.8px;line-height:23px;letter-spacing:0.109px;color:#111;font-weight:700;">21,0000</span>
<span class="t" style="left:1315.22px;top:924px;font-size:17.8px;line-height:23px;letter-spacing:0.277px;color:#111;font-weight:700;">12.242,00</span>
<span class="t" style="left:1541.36px;top:924px;font-size:17.8px;line-height:23px;letter-spacing:0.439px;color:#111;font-weight:700;">11,0000</span>
<span class="t" style="left:1726.01px;top:924px;font-size:17.8px;line-height:23px;letter-spacing:0.302px;color:#111;font-weight:700;">120,0000</span>
<span class="t s" style="left:439.70px;top:975px;font-size:15.9px;line-height:21px;letter-spacing:0.222px;color:#8a8a8a;font-weight:400;">Tiempo de espera hijos</span>
<span class="t s" style="left:441.00px;top:1006px;font-size:18.3px;line-height:24px;letter-spacing:0.848px;color:#222;font-weight:400;">47d 47m</span>
<span class="t s" style="left:1873.54px;top:1056.00px;font-size:19.5px;line-height:0;letter-spacing:-0.101px;color:#fff;transform-origin:0 0;transform:rotate(-90deg)">Mensajes</span>
<span class="t s" style="left:1901.54px;top:1056.00px;font-size:19.5px;line-height:0;letter-spacing:-0.210px;color:#fff;transform-origin:0 0;transform:rotate(-90deg)">Panel de propiedades</span>
</div>
</body>
</html>
